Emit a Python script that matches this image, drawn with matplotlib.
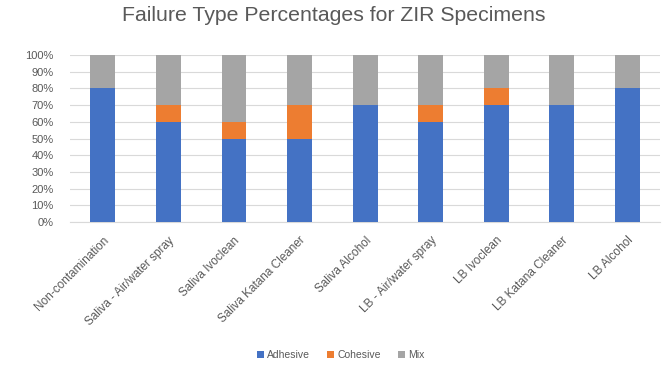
import matplotlib
matplotlib.use("Agg")
import matplotlib.pyplot as plt
import numpy as np

plt.rcParams["font.family"] = ["Liberation Sans", "DejaVu Sans"]

# 各组失效类型百分比
categories = [
    "Non-contamination",
    "Saliva - Air/water spray",
    "Saliva Ivoclean",
    "Saliva Katana Cleaner",
    "Saliva Alcohol",
    "LB - Air/water spray",
    "LB Ivoclean",
    "LB Katana Cleaner",
    "LB Alcohol",
]
adhesive = [0.80, 0.60, 0.50, 0.50, 0.70, 0.60, 0.70, 0.70, 0.80]
cohesive = [0.00, 0.10, 0.10, 0.20, 0.00, 0.10, 0.10, 0.00, 0.00]
mix = [0.20, 0.30, 0.40, 0.30, 0.30, 0.30, 0.20, 0.30, 0.20]

c_blue = "#4472C4"
c_orange = "#ED7D31"
c_gray = "#A5A5A5"
txt = "#595959"

fig = plt.figure(figsize=(6.68, 3.67), dpi=100)
ax = fig.add_axes([0.105, 0.395, 0.883, 0.455])

x = np.arange(len(categories))
w = 0.38
a = np.array(adhesive)
c = np.array(cohesive)
m = np.array(mix)
ax.bar(x, a, w, color=c_blue, label="Adhesive", zorder=3)
ax.bar(x, c, w, bottom=a, color=c_orange, label="Cohesive", zorder=3)
ax.bar(x, m, w, bottom=a + c, color=c_gray, label="Mix", zorder=3)

ax.set_xlim(-0.5, len(categories) - 0.5)
ax.set_ylim(0, 1.0)
ticks = np.arange(0, 1.01, 0.1)
ax.set_yticks(ticks)
ax.set_yticklabels([f"{int(round(v * 100))}%" for v in ticks], fontsize=8, color=txt)
ax.yaxis.grid(True, color="#D9D9D9", linewidth=0.8, zorder=0)
ax.set_xticks(x)
ax.set_xticklabels(categories, rotation=45, ha="right", rotation_mode="anchor",
                   fontsize=8.5, color=txt)
ax.tick_params(axis="y", length=0, pad=12)
ax.tick_params(axis="x", length=0, pad=9)
for s in ["top", "right", "left"]:
    ax.spines[s].set_visible(False)
ax.spines["bottom"].set_color("#D9D9D9")

fig.suptitle("Failure Type Percentages for ZIR Specimens", y=0.985,
             fontsize=15.3, color=txt)

fig.legend(loc="center", bbox_to_anchor=(0.51, 0.032), ncol=3, frameon=False,
           fontsize=7.5, handlelength=0.7, handleheight=0.7, handletextpad=0.3,
           columnspacing=1.6, labelcolor=txt)

fig.savefig("out.png", dpi=100)
